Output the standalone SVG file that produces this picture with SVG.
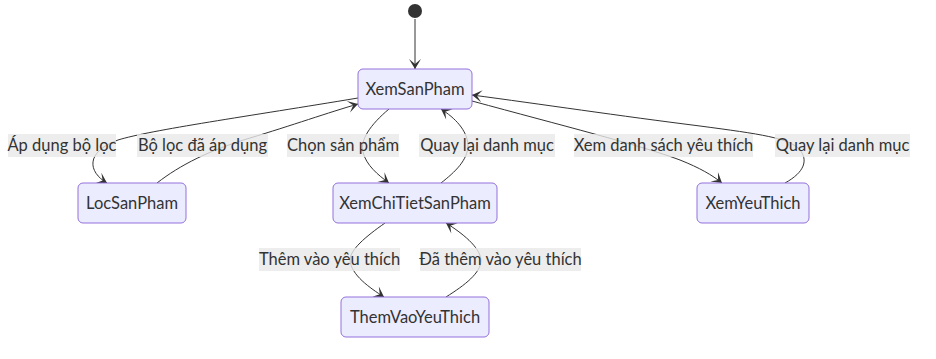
<svg xmlns="http://www.w3.org/2000/svg" width="936" height="359" viewBox="0 0 936 359">
<style>
  .node rect { fill: #ECECFF; stroke: #9370DB; stroke-width: 1; }
  .node text { font-family: "Trebuchet MS", Lato, "Liberation Sans", sans-serif; font-size: 16.5px; fill: #333; text-anchor: middle; }
  .edge { fill: none; stroke: #333; stroke-width: 1; marker-end: url(#barb); }
  .lbl rect { fill: #e8e8e8; fill-opacity: 0.8; }
  .lbl text { font-family: "Trebuchet MS", Lato, "Liberation Sans", sans-serif; font-size: 16.5px; fill: #333; text-anchor: middle; }
</style>
<defs>
  <marker id="barb" viewBox="0 0 20 14" refX="19" refY="7" markerWidth="20" markerHeight="14" markerUnits="userSpaceOnUse" orient="auto">
    <path d="M 19,7 L9,13 L14,7 L9,1 Z" fill="#333"/>
  </marker>
</defs>
<rect width="936" height="359" fill="#ffffff"/>

<g id="connectors">
  <path class="edge" d="M415,19 L415,69"/>
  <path class="edge" d="M358,98 C250,116 150,130 118,140 C85,152 88,172 107,183"/>
  <path class="edge" d="M157,183 C180,165 210,150 250,138 C290,126 330,112 358,104"/>
  <path class="edge" d="M389,109 C370,125 360,140 363,152 C366,165 378,175 389,183"/>
  <path class="edge" d="M441,183 C455,172 468,160 468,145 C467,130 455,118 441,109"/>
  <path class="edge" d="M472,101 C560,125 640,145 680,160 C700,168 712,175 722,183"/>
  <path class="edge" d="M785,183 C805,172 808,160 800,150 C790,138 760,134 700,126 C620,116 540,104 472,95"/>
  <path class="edge" d="M385,223 C365,237 350,250 350,260 C351,275 370,288 384,297"/>
  <path class="edge" d="M446,297 C465,285 481,273 481,260 C480,247 462,233 446,223"/>
</g>

<g id="edge-labels">
  <g class="lbl"><rect x="8" y="134" width="108" height="23"/><text x="62" y="151">Áp dụng bộ lọc</text></g>
  <g class="lbl"><rect x="137" y="134" width="131" height="23"/><text x="202.5" y="151">Bộ lọc đã áp dụng</text></g>
  <g class="lbl"><rect x="287" y="134" width="112" height="23"/><text x="343" y="151">Chọn sản phẩm</text></g>
  <g class="lbl"><rect x="419" y="134" width="136" height="23"/><text x="487" y="151">Quay lại danh mục</text></g>
  <g class="lbl"><rect x="574" y="134" width="179" height="23"/><text x="663.5" y="151">Xem danh sách yêu thích</text></g>
  <g class="lbl"><rect x="775" y="134" width="135" height="23"/><text x="842.5" y="151">Quay lại danh mục</text></g>
  <g class="lbl"><rect x="259" y="248" width="141" height="23"/><text x="329.5" y="265">Thêm vào yêu thích</text></g>
  <g class="lbl"><rect x="420" y="248" width="161" height="23"/><text x="500.5" y="265">Đã thêm vào yêu thích</text></g>
</g>

<circle id="start" cx="415" cy="11" r="7" fill="#333"/>

<g id="XemSanPham" class="node"><rect x="358" y="69" width="114" height="40" rx="5"/><text x="415" y="95">XemSanPham</text></g>
<g id="LocSanPham" class="node"><rect x="78" y="183" width="108" height="40" rx="5"/><text x="132" y="209">LocSanPham</text></g>
<g id="XemChiTietSanPham" class="node"><rect x="333" y="183" width="164" height="40" rx="5"/><text x="415" y="209">XemChiTietSanPham</text></g>
<g id="XemYeuThich" class="node"><rect x="697" y="183" width="112" height="40" rx="5"/><text x="753" y="209">XemYeuThich</text></g>
<g id="ThemVaoYeuThich" class="node"><rect x="341" y="297" width="148" height="40" rx="5"/><text x="415" y="323">ThemVaoYeuThich</text></g>
</svg>
